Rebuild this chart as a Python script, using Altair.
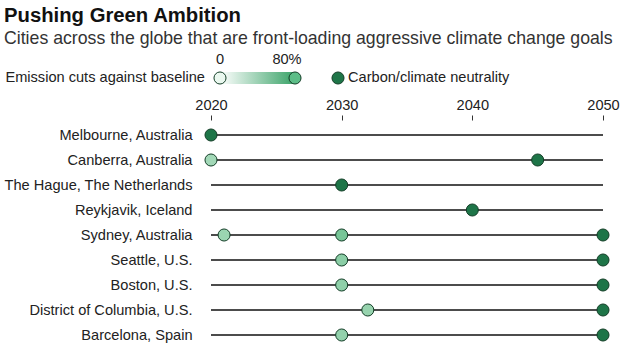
import altair as alt
import pandas as pd

cities = ["Melbourne, Australia", "Canberra, Australia", "The Hague, The Netherlands",
          "Reykjavik, Iceland", "Sydney, Australia", "Seattle, U.S.", "Boston, U.S.",
          "District of Columbia, U.S.", "Barcelona, Spain"]
span_start = [2020] * 9
span_end = [2050] * 9

neutral_city = cities
neutral_year = [2020, 2045, 2030, 2040, 2050, 2050, 2050, 2050, 2050]

cut_city = ["Canberra, Australia", "Sydney, Australia", "Sydney, Australia", "Seattle, U.S.",
            "Boston, U.S.", "District of Columbia, U.S.", "Barcelona, Spain"]
cut_year = [2020, 2021, 2030, 2030, 2030, 2032, 2030]
cut_pct = [40, 44, 62, 52, 50, 46, 48]

tick_years = [2020, 2030, 2040, 2050]

FONT = "Liberation Sans"
DARK = "#1e7548"
STROKE = "#123d26"
LAB = 14.6

spans = pd.DataFrame({"city": cities, "start": span_start, "end": span_end})
neutral = pd.DataFrame({"city": neutral_city, "year": neutral_year})
cuts = pd.DataFrame({"city": cut_city, "year": cut_year, "pct": cut_pct})

xenc = alt.X("start:Q", scale=alt.Scale(domain=[2020, 2050], nice=False, zero=False),
             axis=alt.Axis(orient="top", values=tick_years, format="d", offset=15, tickSize=5,
                           domain=False, grid=False, title=None, labelFontSize=LAB,
                           labelFlush=False, labelFont=FONT, labelColor="#222",
                           labelPadding=3, tickColor="#333"))
yenc = alt.Y("city:N", sort=cities, scale=alt.Scale(type="point", padding=0),
             axis=alt.Axis(title=None, domain=False, ticks=False, labelFontSize=LAB,
                           labelFont=FONT, labelColor="#222", labelPadding=19,
                           labelLimit=300))

rules = alt.Chart(spans).mark_rule(color="#111", strokeWidth=1.3).encode(
    x=xenc, x2="end:Q", y=yenc)

neutral_pts = alt.Chart(neutral).mark_circle(size=145, opacity=1, color=DARK,
                                             stroke=STROKE, strokeWidth=1).encode(
    x="year:Q", y=alt.Y("city:N", sort=cities))

cut_pts = alt.Chart(cuts).mark_circle(size=145, opacity=1, stroke=STROKE, strokeWidth=1).encode(
    x="year:Q", y=alt.Y("city:N", sort=cities),
    fill=alt.Fill("pct:Q", scale=alt.Scale(domain=[0, 80], range=["#eef9f2", "#4fb67e"]),
                  legend=None))

# Title and subtitle
title_df = pd.DataFrame({"t": ["Pushing Green Ambition"]})
sub_df = pd.DataFrame({"t": ["Cities across the globe that are front-loading aggressive climate change goals"]})
title = alt.Chart(title_df).mark_text(align="left", baseline="alphabetic", font=FONT,
                                      fontSize=20.3, fontWeight="bold", color="#111").encode(
    x=alt.value(-207), y=alt.value(-113), text="t:N")
subtitle = alt.Chart(sub_df).mark_text(align="left", baseline="alphabetic", font=FONT,
                                       fontSize=17.7, color="#333").encode(
    x=alt.value(-207), y=alt.value(-91), text="t:N")

# Manual legend
leg_lab = pd.DataFrame({"t": ["Emission cuts against baseline"]})
legend_label = alt.Chart(leg_lab).mark_text(align="right", baseline="middle", font=FONT,
                                            fontSize=LAB, color="#222").encode(
    x=alt.value(-6), y=alt.value(-57), text="t:N")
grad = alt.Chart(pd.DataFrame({"a": [0]})).mark_rect(
    color=alt.Gradient(gradient="linear", x1=0, x2=1, y1=0, y2=0,
                       stops=[alt.GradientStop(offset=0, color="#ffffff"),
                              alt.GradientStop(offset=1, color="#3fa56c")])).encode(
    x=alt.value(9), x2=alt.value(82), y=alt.value(-63), y2=alt.value(-51))
leg_c0 = alt.Chart(pd.DataFrame({"a": [0]})).mark_circle(size=145, opacity=1, color="#eaf8ef",
                                                         stroke=STROKE, strokeWidth=1).encode(
    x=alt.value(9), y=alt.value(-57))
leg_c80 = alt.Chart(pd.DataFrame({"a": [0]})).mark_circle(size=145, opacity=1, color="#5cbd87",
                                                          stroke=STROKE, strokeWidth=1).encode(
    x=alt.value(84), y=alt.value(-57))
leg_t0 = alt.Chart(pd.DataFrame({"t": ["0"]})).mark_text(align="center", baseline="middle", font=FONT,
                                                        fontSize=LAB, color="#222").encode(
    x=alt.value(9), y=alt.value(-75), text="t:N")
leg_t80 = alt.Chart(pd.DataFrame({"t": ["80%"]})).mark_text(align="center", baseline="middle", font=FONT,
                                                           fontSize=LAB, color="#222").encode(
    x=alt.value(76), y=alt.value(-75), text="t:N")
leg_cn = alt.Chart(pd.DataFrame({"a": [0]})).mark_circle(size=145, opacity=1, color=DARK,
                                                         stroke=STROKE, strokeWidth=1).encode(
    x=alt.value(127), y=alt.value(-57))
leg_tn = alt.Chart(pd.DataFrame({"t": ["Carbon/climate neutrality"]})).mark_text(
    align="left", baseline="middle", font=FONT, fontSize=LAB, color="#222").encode(
    x=alt.value(137), y=alt.value(-57), text="t:N")

chart = alt.layer(rules, cut_pts, neutral_pts, title, subtitle, legend_label, grad,
                  leg_c0, leg_c80, leg_t0, leg_t80, leg_cn, leg_tn).properties(
    width=392, height=200, autosize="none",
    padding={"left": 211, "top": 135, "right": 23, "bottom": 12},
    background="white"
).configure_view(stroke=None)

chart.save("out.html", embed_options={"renderer": "svg", "actions": False})
